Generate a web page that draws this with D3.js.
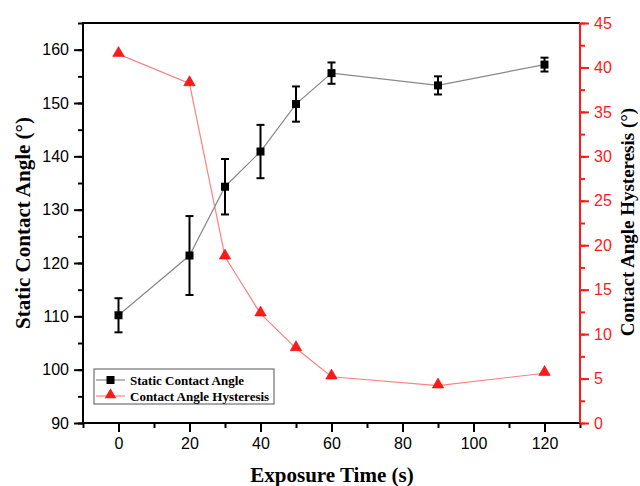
<!DOCTYPE html>
<html>
<head>
<meta charset="utf-8">
<script src="https://cdn.jsdelivr.net/npm/d3@7"></script>
<style>
  body { margin: 0; background: #fff; }
  .tick text { font-family: "Liberation Sans", Arial, sans-serif; font-size: 16px; }
  .title { font-family: "Liberation Serif", "Times New Roman", serif; font-weight: bold; }
</style>
</head>
<body>
<script>
var times = [0, 20, 30, 40, 50, 60, 90, 120];
var staticAngle = [110.2, 121.4, 134.3, 140.9, 149.8, 155.6, 153.3, 157.2];
var staticErr = [3.2, 7.4, 5.2, 5.0, 3.3, 2.0, 1.7, 1.3];
var hysteresis = [41.5, 38.2, 18.7, 12.3, 8.4, 5.2, 4.2, 5.6];

var width = 640, height = 486;
var padL = 83, padR = 580, padT = 23, padB = 423;

var svg = d3.select("body").append("svg")
  .attr("width", width)
  .attr("height", height);

var x = d3.scaleLinear().domain([-10, 130]).range([padL, padR]);
var yL = d3.scaleLinear().domain([90, 165]).range([padB, padT]);
var yR = d3.scaleLinear().domain([0, 45]).range([padB, padT]);

// minor ticks first
svg.append("g")
  .attr("transform", "translate(0," + padB + ")")
  .call(d3.axisBottom(x).tickValues(d3.range(-10, 131, 10)).tickSize(5).tickFormat(""))
  .call(g => g.select(".domain").remove())
  .selectAll("line").attr("stroke-width", 2);
svg.append("g")
  .attr("transform", "translate(" + padL + ",0)")
  .call(d3.axisLeft(yL).tickValues(d3.range(90, 166, 5)).tickSize(5).tickFormat(""))
  .call(g => g.select(".domain").remove())
  .selectAll("line").attr("stroke-width", 2);
svg.append("g")
  .attr("transform", "translate(" + padR + ",0)")
  .call(d3.axisRight(yR).tickValues(d3.range(0, 45.1, 2.5)).tickSize(5).tickFormat(""))
  .call(g => g.select(".domain").remove())
  .selectAll("line").attr("stroke", "#ff1a1a").attr("stroke-width", 2);

// major ticks
var xAxis = svg.append("g")
  .attr("transform", "translate(0," + padB + ")")
  .call(d3.axisBottom(x).tickValues(d3.range(0, 121, 20)).tickSize(9).tickPadding(6));
xAxis.select(".domain").remove();
xAxis.selectAll("line").attr("stroke-width", 2);
xAxis.selectAll("text").attr("fill", "#000");

var yAxisL = svg.append("g")
  .attr("transform", "translate(" + padL + ",0)")
  .call(d3.axisLeft(yL).tickValues(d3.range(90, 161, 10)).tickSize(9).tickPadding(5));
yAxisL.select(".domain").remove();
yAxisL.selectAll("line").attr("stroke-width", 2);
yAxisL.selectAll("text").attr("fill", "#000");

var yAxisR = svg.append("g")
  .attr("transform", "translate(" + padR + ",0)")
  .call(d3.axisRight(yR).tickValues(d3.range(0, 46, 5)).tickSize(9).tickPadding(5));
yAxisR.select(".domain").remove();
yAxisR.selectAll("line").attr("stroke", "#ff1a1a").attr("stroke-width", 2);
yAxisR.selectAll("text").attr("fill", "#ff1a1a");

// frame
svg.append("path")
  .attr("d", "M" + padR + "," + padT + "H" + padL + "V" + padB + "H" + padR)
  .attr("fill", "none").attr("stroke", "#000").attr("stroke-width", 2);
svg.append("line")
  .attr("x1", padR).attr("x2", padR).attr("y1", padT).attr("y2", padB)
  .attr("stroke", "#ff1a1a").attr("stroke-width", 2);

// hysteresis series
var redLine = d3.line().x((d, i) => x(times[i])).y(d => yR(d));
svg.append("path")
  .datum(hysteresis)
  .attr("d", redLine)
  .attr("fill", "none")
  .attr("stroke", "#ff8080")
  .attr("stroke-width", 1.2);

var tri = d3.symbol().type(d3.symbolTriangle).size(58);
svg.selectAll(".tri")
  .data(hysteresis)
  .enter().append("path")
  .attr("class", "tri")
  .attr("d", tri)
  .attr("transform", (d, i) => "translate(" + x(times[i]) + "," + (yR(d) - 1) + ")")
  .attr("fill", "#ff1a1a")
  .attr("stroke", "#e00000")
  .attr("stroke-width", 0.5);

// static angle series
var blackLine = d3.line().x((d, i) => x(times[i])).y(d => yL(d));
svg.append("path")
  .datum(staticAngle)
  .attr("d", blackLine)
  .attr("fill", "none")
  .attr("stroke", "#888")
  .attr("stroke-width", 1.2);

var err = svg.selectAll(".err")
  .data(staticAngle)
  .enter().append("g")
  .attr("class", "err");
err.append("line")
  .attr("x1", (d, i) => x(times[i])).attr("x2", (d, i) => x(times[i]))
  .attr("y1", (d, i) => yL(d + staticErr[i])).attr("y2", (d, i) => yL(d - staticErr[i]))
  .attr("stroke", "#000").attr("stroke-width", 2);
err.append("line")
  .attr("x1", (d, i) => x(times[i]) - 4).attr("x2", (d, i) => x(times[i]) + 4)
  .attr("y1", (d, i) => yL(d + staticErr[i])).attr("y2", (d, i) => yL(d + staticErr[i]))
  .attr("stroke", "#000").attr("stroke-width", 2);
err.append("line")
  .attr("x1", (d, i) => x(times[i]) - 4).attr("x2", (d, i) => x(times[i]) + 4)
  .attr("y1", (d, i) => yL(d - staticErr[i])).attr("y2", (d, i) => yL(d - staticErr[i]))
  .attr("stroke", "#000").attr("stroke-width", 2);
err.append("rect")
  .attr("x", (d, i) => x(times[i]) - 4)
  .attr("y", d => yL(d) - 4)
  .attr("width", 8).attr("height", 8)
  .attr("fill", "#000");

// legend
var lg = svg.append("g").attr("transform", "translate(94,369)");
lg.append("rect")
  .attr("width", 180).attr("height", 35)
  .attr("fill", "#fff").attr("stroke", "#555").attr("stroke-width", 1);
lg.append("line").attr("x1", 2).attr("x2", 31).attr("y1", 11).attr("y2", 11)
  .attr("stroke", "#888").attr("stroke-width", 1.2);
lg.append("rect").attr("x", 12.5).attr("y", 7).attr("width", 8).attr("height", 8).attr("fill", "#000");
lg.append("line").attr("x1", 2).attr("x2", 31).attr("y1", 27).attr("y2", 27)
  .attr("stroke", "#ff8080").attr("stroke-width", 1.2);
lg.append("path").attr("d", tri).attr("transform", "translate(16.5,26)").attr("fill", "#ff1a1a");
lg.append("text").attr("class", "title").attr("x", 36).attr("y", 15.5)
  .style("font-size", "13px").text("Static Contact Angle");
lg.append("text").attr("class", "title").attr("x", 36).attr("y", 31.5)
  .style("font-size", "13px").text("Contact Angle Hysteresis");

// axis titles
svg.append("text").attr("class", "title")
  .attr("transform", "translate(30,223) rotate(-90)")
  .attr("text-anchor", "middle")
  .style("font-size", "21px")
  .text("Static Contact Angle (°)");
svg.append("text").attr("class", "title")
  .attr("transform", "translate(634,222) rotate(-90)")
  .attr("text-anchor", "middle")
  .style("font-size", "19px")
  .text("Contact Angle Hysteresis (°)");
svg.append("text").attr("class", "title")
  .attr("x", 332).attr("y", 482)
  .attr("text-anchor", "middle")
  .style("font-size", "21px")
  .text("Exposure Time (s)");
</script>
</body>
</html>
